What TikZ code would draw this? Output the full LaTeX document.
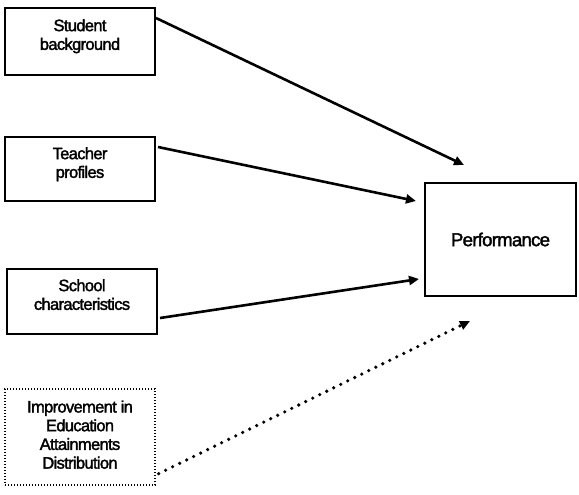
\documentclass[tikz,border=0pt]{standalone}
\usepackage{fontspec}
\setmainfont{Liberation Sans}[LetterSpace=-4, FakeBold=2]
\usetikzlibrary{arrows.meta,calc}

\begin{document}
\begin{tikzpicture}[x=1pt,y=-1pt,
  box/.style={draw, line width=2pt, minimum width=150pt, inner sep=0pt},
  dotbox/.style={draw, line width=1.3pt, dash pattern=on 1.3pt off 1.7pt,
                 minimum width=150pt, inner sep=0pt},
  boxtext/.style={anchor=north, align=center, inner sep=0pt,
                  font=\fontsize{16.5}{18.7}\selectfont},
  link/.style={line width=2.6pt, -{Triangle[length=10pt,width=9pt]}},
  dotlink/.style={line width=3.6pt, line cap=round, dash pattern=on 0pt off 7.8pt,
                  -{Triangle[length=10pt,width=9pt]}}]
\useasboundingbox (0,0) rectangle (579,495);

% factor boxes
\node[box, minimum height=67pt] (b1) at (80,41.5) {};
\node[box, minimum height=64pt] (b2) at (80,169) {};
\node[box, minimum height=65pt] (b3) at (82,301.5) {};
\node[dotbox, minimum height=96pt] (b4) at (80,437) {};

\node[boxtext] (t1) at ($(b1.north)+(0,12)$) {Student\\background};
\node[boxtext] (t2) at ($(b2.north)+(0,11)$) {Teacher\\profiles};
\node[boxtext] (t3) at ($(b3.north)+(0,11)$) {School\\characteristics};
\node[boxtext] (t4) at ($(b4.north)+(0,12)$) {Improvement in\\Education\\Attainments\\Distribution};

% outcome box
\node[box, minimum width=151pt, minimum height=113pt,
      font=\fontsize{18.6}{20}\selectfont] (perf) at (500.5,239.5) {Performance};

% connector ends
\coordinate (s1) at ($(b1.north east)+(0,11)$);
\coordinate (s2) at ($(b2.north east)+(2,11)$);
\coordinate (s3) at ($(b3.south east)+(2,-17)$);
\coordinate (s4) at ($(b4.south east)+(3,-12)$);
\coordinate (e1) at ($(perf.north west)+(40,-17)$);
\coordinate (e2) at ($(perf.north west)+(-8,19)$);
\coordinate (e3) at ($(perf.south west)+(-5,-18)$);
\coordinate (e4) at ($(perf.south west)+(46,24)$);

\draw[link] (s1) -- (e1);
\draw[link] (s2) -- (e2);
\draw[link] (s3) -- (e3);
\draw[dotlink] (s4) -- (e4);
\end{tikzpicture}
\end{document}
